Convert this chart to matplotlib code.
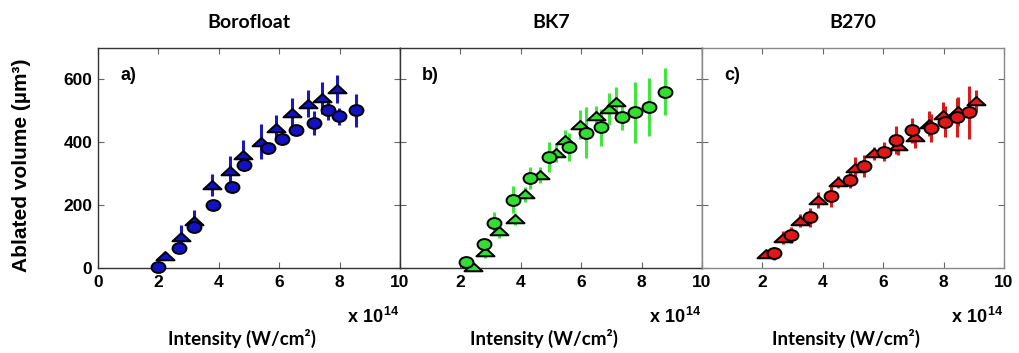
import numpy as np
import matplotlib
matplotlib.use("Agg")
import matplotlib.pyplot as plt
from matplotlib.path import Path

plt.rcParams['font.family'] = ['Liberation Sans', 'DejaVu Sans']
plt.rcParams['mathtext.fontset'] = 'custom'
plt.rcParams['mathtext.bf'] = 'Liberation Sans:bold'
plt.rcParams['mathtext.rm'] = 'Liberation Sans:bold'

# ---------------- data (intensity in units of 1e14 W/cm^2, volume in um^3) -------------
titles = ["Borofloat", "BK7", "B270"]
panel_labels = ["a)", "b)", "c)"]

boro_circ_x = [2.0, 2.69, 3.19, 3.80, 4.43, 4.85, 5.64, 6.08, 6.56, 7.15, 7.61, 7.99, 8.53]
boro_circ_y = [3, 65, 132, 202, 257, 328, 381, 410, 438, 461, 502, 483, 502]
boro_circ_e = [8, 15, 15, 12, 18, 20, 18, 18, 15, 38, 30, 27, 52]
boro_tri_x = [2.22, 2.74, 3.18, 3.76, 4.37, 4.81, 5.40, 5.88, 6.41, 6.96, 7.41, 7.90]
boro_tri_y = [39, 100, 151, 263, 309, 360, 402, 445, 493, 523, 541, 570]
boro_tri_e = [10, 38, 32, 35, 48, 47, 56, 42, 47, 43, 50, 45]

bk7_circ_x = [2.19, 2.79, 3.10, 3.75, 4.32, 4.95, 5.59, 6.15, 6.64, 7.34, 7.77, 8.25, 8.78]
bk7_circ_y = [20, 76, 143, 217, 285, 354, 386, 431, 448, 479, 495, 511, 561]
bk7_circ_e = [12, 15, 35, 43, 35, 48, 45, 80, 59, 40, 96, 92, 75]
bk7_tri_x = [2.41, 2.80, 3.27, 3.80, 4.13, 4.65, 5.15, 5.45, 5.95, 6.48, 6.92, 7.14]
bk7_tri_y = [3, 52, 119, 156, 234, 297, 367, 408, 456, 485, 506, 527]
bk7_tri_e = [10, 20, 25, 20, 25, 25, 30, 30, 47, 30, 50, 50]

b270_circ_x = [2.39, 2.94, 3.56, 4.26, 4.91, 5.38, 6.02, 6.41, 6.96, 7.57, 8.06, 8.45, 8.85]
b270_circ_y = [47, 106, 162, 229, 281, 325, 370, 408, 438, 445, 466, 480, 495]
b270_circ_e = [20, 25, 30, 35, 25, 35, 30, 45, 40, 45, 50, 62, 83]
b270_tri_x = [2.13, 2.68, 3.23, 3.84, 4.50, 5.07, 5.71, 6.49, 7.04, 7.53, 7.97, 8.47, 9.07]
b270_tri_y = [44, 97, 151, 217, 274, 317, 365, 388, 418, 459, 488, 498, 531]
b270_tri_e = [10, 20, 20, 25, 20, 35, 20, 30, 35, 40, 40, 45, 35]

x_ticks = [0, 2, 4, 6, 8, 10]
y_ticks = [0, 200, 400, 600]

face_colors = ["#1212c4", "#33dd33", "#e01818"]
err_colors = ["#1a1ab8", "#3ee63e", "#d81c1c"]

datasets = [
    (boro_circ_x, boro_circ_y, boro_circ_e, boro_tri_x, boro_tri_y, boro_tri_e),
    (bk7_circ_x, bk7_circ_y, bk7_circ_e, bk7_tri_x, bk7_tri_y, bk7_tri_e),
    (b270_circ_x, b270_circ_y, b270_circ_e, b270_tri_x, b270_tri_y, b270_tri_e),
]

# custom flattened markers
circ = Path.unit_circle()
ell_marker = Path(circ.vertices * np.array([1.0, 0.78]), circ.codes)
tri_marker = Path([(-1, -0.42), (1, -0.42), (0, 0.5), (-1, -0.42)],
                  [Path.MOVETO, Path.LINETO, Path.LINETO, Path.CLOSEPOLY])

W, H = 1019, 353
fig = plt.figure(figsize=(W / 100, H / 100), dpi=100)

lefts = [98, 400, 702]
ax_w, ax_b, ax_h = 302, 85, 220

for i, (cx, cy, ce, tx, ty, te) in enumerate(datasets):
    ax = fig.add_axes([lefts[i] / W, ax_b / H, ax_w / W, ax_h / H])
    ax.errorbar(tx, ty, yerr=te, fmt='none', ecolor=err_colors[i], elinewidth=2.2, capsize=0, zorder=2)
    ax.errorbar(cx, cy, yerr=ce, fmt='none', ecolor=err_colors[i], elinewidth=2.2, capsize=0, zorder=2)
    ax.plot(tx, ty, linestyle='none', marker=tri_marker, markersize=13,
            markerfacecolor=face_colors[i], markeredgecolor='black', markeredgewidth=1.4, zorder=3, clip_on=False)
    ax.plot(cx, cy, linestyle='none', marker=ell_marker, markersize=10,
            markerfacecolor=face_colors[i], markeredgecolor='black', markeredgewidth=1.4, zorder=4, clip_on=False)
    ax.set_xlim(0, 10)
    ax.set_ylim(0, 700)
    ax.set_xticks(x_ticks)
    ax.set_yticks(y_ticks)
    if i == 0:
        ax.set_xticklabels([str(t) for t in x_ticks])
        ax.set_yticklabels([str(t) for t in y_ticks])
    else:
        ax.set_xticklabels([''] + [str(t) for t in x_ticks[1:]])
        ax.set_yticklabels([])
    ax.tick_params(direction='in', top=True, right=True, length=4, width=0.8,
                   color='#666666', labelsize=12.5)
    ax.tick_params(axis='x', pad=5)
    ax.tick_params(axis='y', pad=4)
    for lab in ax.get_xticklabels() + ax.get_yticklabels():
        lab.set_fontweight('bold')
    for sp in ax.spines.values():
        sp.set_color('#333333' if i < 2 else '#888888')
        sp.set_linewidth(1.0)
    ax.text(0.073, 0.877, panel_labels[i], transform=ax.transAxes, fontsize=13,
            fontweight='bold', ha='left', va='center')

    fig.text((lefts[i] + 151) / W, 1 - 23 / H, titles[i], ha='center', va='center',
             fontsize=14, fontweight='bold', family=['Lato', 'DejaVu Sans'])
    fig.text((lefts[i] + 301) / W, 1 - 323 / H, r'$\mathbf{x\ 10^{14}}$', ha='right', va='baseline',
             fontsize=13)
    fig.text((lefts[i] + 144) / W, 1 - 345 / H, 'Intensity (W/cm²)', ha='center', va='baseline',
             fontsize=13.5, fontweight='bold', family=['Lato', 'DejaVu Sans'])

fig.text(22 / W, 1 - 165 / H, 'Ablated volume (µm³)', rotation=90, ha='center', va='center',
         fontsize=15, fontweight='bold')

fig.savefig('out.png', dpi=100)
